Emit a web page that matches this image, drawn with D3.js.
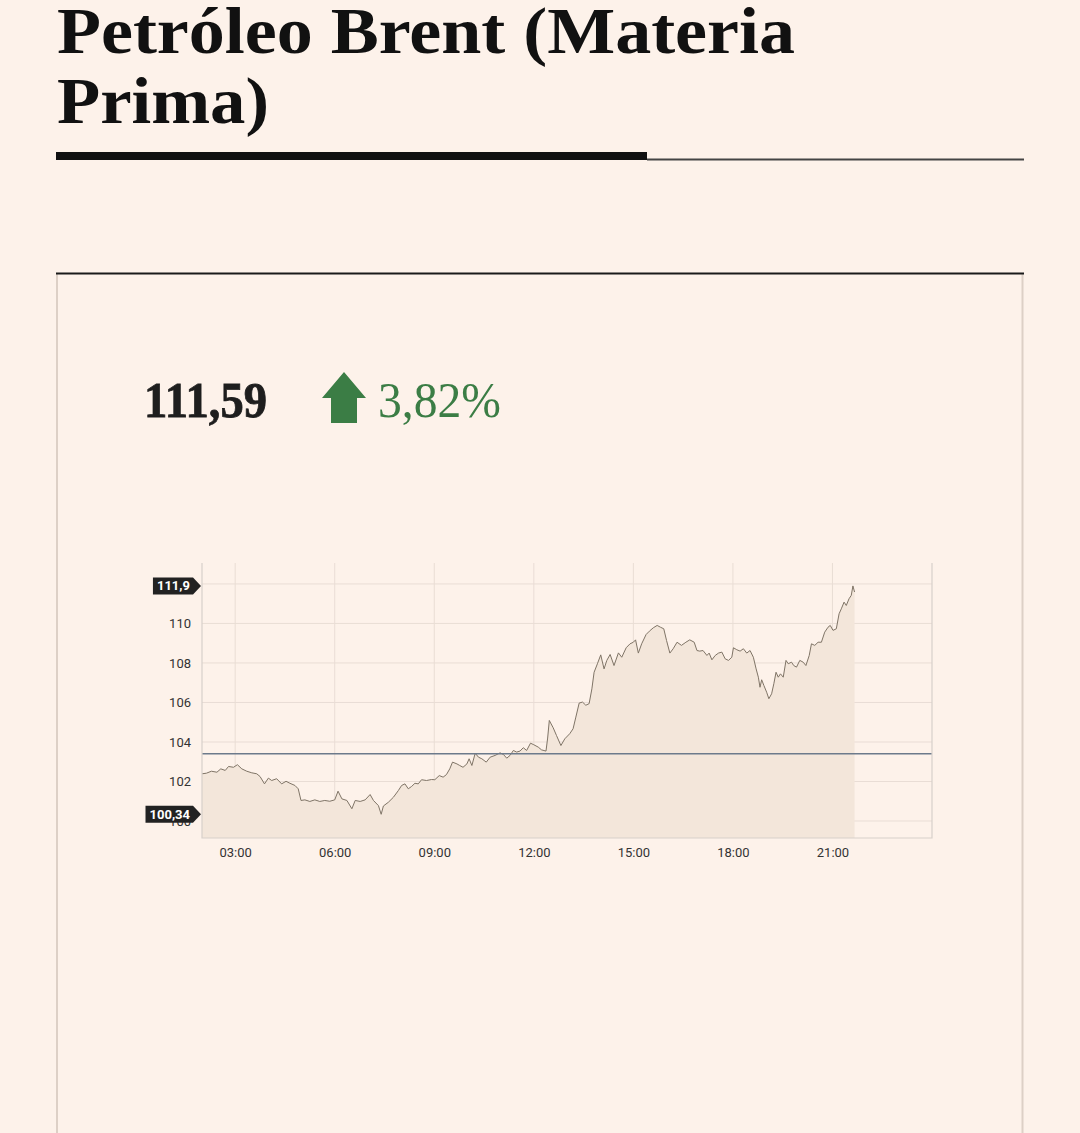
<!DOCTYPE html>
<html>
<head>
<meta charset="utf-8">
<script src="https://cdn.jsdelivr.net/npm/d3@7"></script>
<style>
  html, body { margin: 0; padding: 0; background: #fdf2ea; }
  svg { display: block; }
  .tick text { font-family: Roboto, "Liberation Sans", sans-serif; font-size: 13px; fill: #333; }
</style>
</head>
<body>
<svg id="chart" width="1080" height="1133"></svg>
<script>
// intraday Brent quotes
var times = ["02:00","02:08","02:17","02:27","02:34","02:42","02:48","02:57","03:04","03:12",
  "03:21","03:30","03:39","03:45","03:53","04:00","04:06","04:15","04:24","04:32",
  "04:39","04:48","04:54","04:59","05:06","05:15","05:24","05:33","05:42","05:51",
  "06:00","06:06","06:13","06:22","06:31","06:37","06:46","06:55","07:04","07:10",
  "07:19","07:24","07:28","07:37","07:46","07:55","08:01","08:07","08:13","08:19",
  "08:25","08:31","08:37","08:46","08:55","09:01","09:09","09:16","09:22","09:28",
  "09:33","09:41","09:46","09:52","09:59","10:03","10:08","10:14","10:20","10:26",
  "10:34","10:41","10:50","10:59","11:05","11:11","11:17","11:23","11:29","11:35",
  "11:41","11:47","11:54","12:00","12:08","12:14","12:22","12:25","12:28","12:35",
  "12:41","12:49","12:56","13:05","13:11","13:16","13:22","13:28","13:34","13:40",
  "13:45","13:49","13:55","14:01","14:07","14:12","14:18","14:25","14:33","14:39",
  "14:47","14:54","15:00","15:04","15:09","15:15","15:23","15:29","15:36","15:43",
  "15:49","15:55","16:00","16:06","16:12","16:19","16:27","16:35","16:42","16:50",
  "16:55","17:00","17:06","17:13","17:17","17:22","17:28","17:34","17:40","17:46",
  "17:52","17:58","18:01","18:07","18:13","18:19","18:25","18:31","18:37","18:42",
  "18:46","18:49","18:52","18:56","19:01","19:05","19:10","19:14","19:18","19:22",
  "19:26","19:31","19:36","19:40","19:46","19:50","19:55","20:01","20:07","20:12",
  "20:18","20:22","20:28","20:34","20:40","20:46","20:52","20:56","21:01","21:07",
  "21:12","21:16","21:21","21:25","21:30","21:34","21:37","21:40"];

var prices = [102.39,102.42,102.52,102.47,102.64,102.56,102.76,102.72,102.85,102.64,
  102.52,102.44,102.39,102.25,101.88,102.17,102.05,102.14,101.88,102.01,
  101.91,101.80,101.63,101.04,101.07,100.99,101.07,100.99,101.04,101.00,
  101.07,101.51,101.12,101.04,100.62,101.04,100.99,101.07,101.34,101.04,
  100.78,100.34,100.76,100.95,101.20,101.54,101.80,101.88,101.63,101.75,
  101.91,101.88,102.09,102.05,102.10,102.09,102.30,102.22,102.35,102.64,
  102.98,102.89,102.81,102.72,102.89,103.15,102.81,103.43,103.23,103.15,
  102.98,103.23,103.32,103.45,103.37,103.18,103.32,103.57,103.49,103.54,
  103.71,103.57,103.94,103.86,103.74,103.60,103.54,104.20,105.09,104.72,
  104.33,103.82,104.16,104.42,104.67,105.26,105.97,106.02,105.86,105.94,
  106.69,107.53,107.96,108.41,107.70,108.13,108.43,107.87,108.51,108.29,
  108.77,108.97,109.05,109.17,108.50,108.97,109.44,109.61,109.78,109.90,
  109.81,109.73,109.14,108.50,108.72,109.05,108.89,109.05,109.17,109.05,
  108.63,108.60,108.63,108.38,108.50,108.16,108.38,108.50,108.55,108.21,
  108.13,108.29,108.77,108.67,108.60,108.72,108.50,108.63,108.29,107.70,
  107.28,106.77,107.15,106.86,106.52,106.19,106.44,106.95,107.53,107.28,
  107.45,107.28,108.13,107.96,108.04,107.87,107.79,108.13,108.04,107.87,
  108.38,108.97,108.89,109.05,109.05,109.56,109.81,109.90,109.65,109.73,
  110.49,110.74,111.08,110.91,111.25,111.42,111.90,111.59];

var yGrid = [100, 102, 104, 106, 108, 110, 112];
var yTicks = [100, 102, 104, 106, 108, 110];   // 112 sits under the high flag
var xTicks = ["03:00", "06:00", "09:00", "12:00", "15:00", "18:00", "21:00"];
var prevClose = 103.4;
var lastPrice = "111,59";
var change = "3,82%";
var dayHigh = 111.9, dayLow = 100.34;

var svg = d3.select("#chart");
var parse = d3.timeParse("%H:%M");
var data = times.map(function (t, i) { return { t: parse(t), v: prices[i] }; });

// title
var title = svg.append("g")
    .attr("font-family", "'Liberation Serif', 'DejaVu Serif', serif")
    .attr("font-weight", "bold")
    .attr("font-size", "65px")
    .attr("fill", "#111");
title.append("text").attr("x", 57).attr("y", 53)
    .attr("textLength", 738).attr("lengthAdjust", "spacingAndGlyphs")
    .text("Petróleo Brent (Materia");
title.append("text").attr("x", 57).attr("y", 123)
    .attr("textLength", 212).attr("lengthAdjust", "spacingAndGlyphs")
    .text("Prima)");

svg.append("rect").attr("x", 56).attr("y", 152).attr("width", 591).attr("height", 8).attr("fill", "#111");
svg.append("rect").attr("x", 647).attr("y", 158.5).attr("width", 377).attr("height", 2).attr("fill", "#444");

// card
svg.append("rect").attr("x", 56).attr("y", 274).attr("width", 2).attr("height", 870).attr("fill", "#ddd0c6");
svg.append("rect").attr("x", 1021.5).attr("y", 274).attr("width", 2).attr("height", 870).attr("fill", "#ddd0c6");
svg.append("rect").attr("x", 56).attr("y", 272.5).attr("width", 968).attr("height", 2).attr("fill", "#1a1a1a");

// quote
svg.append("text").attr("x", 144).attr("y", 417)
    .attr("font-family", "'Liberation Serif', serif").attr("font-weight", "bold")
    .attr("font-size", "50px").attr("fill", "#1e1e1e")
    .attr("stroke", "#1e1e1e").attr("stroke-width", 0.8)
    .attr("textLength", 123).attr("lengthAdjust", "spacingAndGlyphs")
    .text(lastPrice);
svg.append("path")
    .attr("d", "M344,372 L366,398 L357,398 L357,423 L331,423 L331,398 L322,398 Z")
    .attr("fill", "#3b7d45");
svg.append("text").attr("x", 378).attr("y", 417)
    .attr("font-family", "'Liberation Serif', serif")
    .attr("font-size", "50px").attr("fill", "#3b7d45")
    .attr("textLength", 123).attr("lengthAdjust", "spacingAndGlyphs")
    .text(change);

// chart
var x = d3.scaleTime()
    .domain([parse("02:00"), d3.timeDay.offset(parse("00:00"), 1)])
    .range([202, 932]);
var y = d3.scaleLinear().domain([99.14, 113.06]).range([838, 563]);

var grid = svg.append("g").attr("stroke", "#e9ddd5").attr("stroke-width", 1);
grid.selectAll(".hg").data(yGrid).enter().append("line")
    .attr("x1", 202).attr("x2", 932)
    .attr("y1", function (d) { return y(d); }).attr("y2", function (d) { return y(d); });
grid.selectAll(".vg").data(xTicks).enter().append("line")
    .attr("x1", function (d) { return x(parse(d)); }).attr("x2", function (d) { return x(parse(d)); })
    .attr("y1", 563).attr("y2", 838);

svg.append("path").datum(data)
    .attr("fill", "#f3e6da")
    .attr("d", d3.area().x(function (d) { return x(d.t); }).y0(838).y1(function (d) { return y(d.v); }));

svg.append("path").datum(data)
    .attr("fill", "none").attr("stroke", "#7f7466").attr("stroke-width", 1)
    .attr("d", d3.line().x(function (d) { return x(d.t); }).y(function (d) { return y(d.v); }));

svg.append("line")
    .attr("x1", 202).attr("x2", 932).attr("y1", y(prevClose)).attr("y2", y(prevClose))
    .attr("stroke", "#6c7a8b").attr("stroke-width", 1.5);

// frame
var frame = svg.append("g").attr("stroke", "#d8d0ca").attr("stroke-width", 1.2).attr("fill", "none");
frame.append("path").attr("d", "M202,563 L202,838 L932,838 L932,563");

svg.append("g").attr("transform", "translate(202,0)")
    .call(d3.axisLeft(y).tickValues(yTicks).tickSize(0).tickPadding(11).tickFormat(d3.format("d")))
    .call(function (g) { g.select(".domain").remove(); });

svg.append("g").attr("transform", "translate(0,838)")
    .call(d3.axisBottom(x).tickValues(xTicks.map(parse)).tickSize(0).tickPadding(10)
        .tickFormat(d3.timeFormat("%H:%M")))
    .call(function (g) { g.select(".domain").remove(); });

// high / low flags
var fmt = function (v) { return String(v).replace(".", ","); };
var flags = svg.selectAll(".flag").data([dayHigh, dayLow]).enter().append("g")
    .attr("class", "flag")
    .attr("transform", function (d) { return "translate(201," + y(d) + ")"; });
flags.each(function (d) {
    var g = d3.select(this);
    var t = g.append("text").attr("x", -11).attr("y", 4.5)
        .attr("text-anchor", "end")
        .attr("font-family", "Roboto, 'Liberation Sans', sans-serif")
        .attr("font-weight", "bold").attr("font-size", "13px").attr("fill", "#fff")
        .text(fmt(d));
    var w = t.node().getComputedTextLength() + 7;
    g.insert("path", "text")
        .attr("d", "M0,0 L-8,-8.5 L" + (-8 - w) + ",-8.5 L" + (-8 - w) + ",8.5 L-8,8.5 Z")
        .attr("fill", "#222");
});
</script>
</body>
</html>
